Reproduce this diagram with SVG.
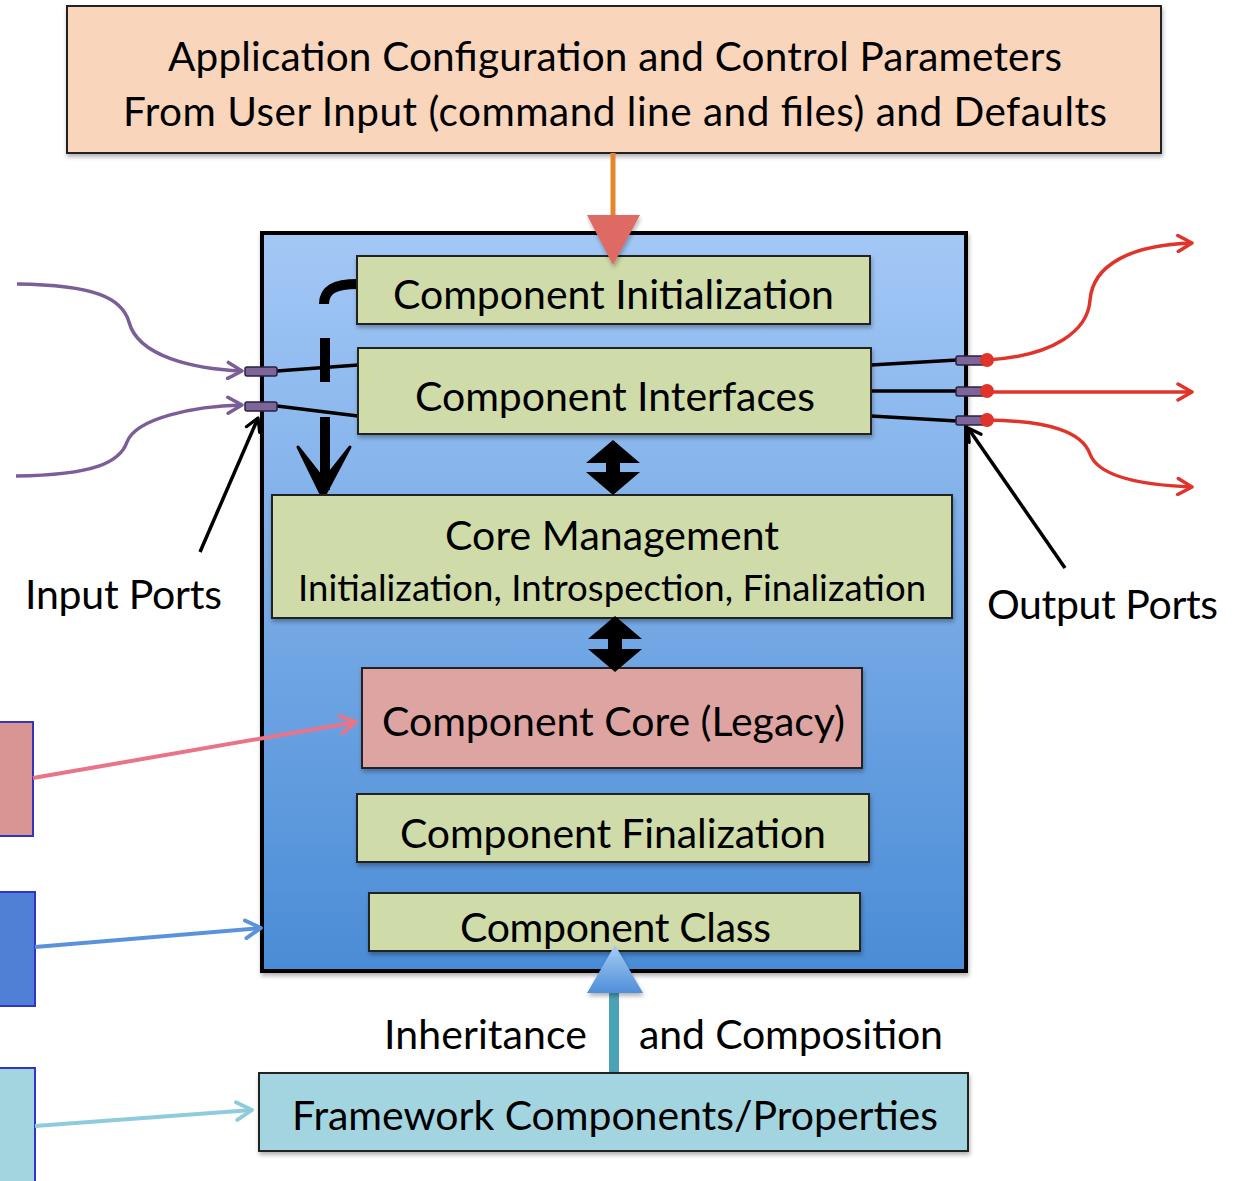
<svg xmlns="http://www.w3.org/2000/svg" width="1237" height="1181" viewBox="0 0 1237 1181">
<style>
.t{font-family:Lato,"Open Sans","Liberation Sans",sans-serif;fill:#000;text-anchor:middle}
.box{stroke:#222;stroke-width:2}
.green{fill:#cfdba9}
.lbl{font-family:Lato,"Open Sans","Liberation Sans",sans-serif;fill:#000}
</style>
<defs>
<linearGradient id="blueg" x1="0" y1="0" x2="0" y2="1">
<stop offset="0" stop-color="#a3c8f6"/>
<stop offset="1" stop-color="#4a8cd6"/>
</linearGradient>
<linearGradient id="trig" x1="0" y1="0" x2="0" y2="1">
<stop offset="0" stop-color="#a8cdf5"/>
<stop offset="1" stop-color="#4f8fd8"/>
</linearGradient>
<filter id="sh" x="-5%" y="-5%" width="110%" height="120%">
<feDropShadow dx="1" dy="3" stdDeviation="2" flood-color="#000" flood-opacity="0.3"/>
</filter>
<marker id="pArr" viewBox="0 0 20 20" refX="18" refY="10" markerWidth="20" markerHeight="20" markerUnits="userSpaceOnUse" orient="auto">
<path d="M4,2 L18,10 L4,18" fill="none" stroke="#7b5d98" stroke-width="3.5" stroke-linecap="round" stroke-linejoin="round"/>
</marker>
<marker id="rArr" viewBox="0 0 20 20" refX="18" refY="10" markerWidth="20" markerHeight="20" markerUnits="userSpaceOnUse" orient="auto">
<path d="M4,2 L18,10 L4,18" fill="none" stroke="#e0332a" stroke-width="3.5" stroke-linecap="round" stroke-linejoin="round"/>
</marker>
<marker id="kArr" viewBox="0 0 20 20" refX="18" refY="10" markerWidth="18" markerHeight="18" markerUnits="userSpaceOnUse" orient="auto">
<path d="M4,2 L18,10 L4,18" fill="none" stroke="#000" stroke-width="3.5" stroke-linecap="round" stroke-linejoin="round"/>
</marker>
<marker id="pinkArr" viewBox="0 0 20 20" refX="18" refY="10" markerWidth="22" markerHeight="22" markerUnits="userSpaceOnUse" orient="auto">
<path d="M4,2 L18,10 L4,18" fill="none" stroke="#ea7487" stroke-width="3.5" stroke-linecap="round" stroke-linejoin="round"/>
</marker>
<marker id="bArr" viewBox="0 0 20 20" refX="18" refY="10" markerWidth="22" markerHeight="22" markerUnits="userSpaceOnUse" orient="auto">
<path d="M4,2 L18,10 L4,18" fill="none" stroke="#5a93dc" stroke-width="3.5" stroke-linecap="round" stroke-linejoin="round"/>
</marker>
<marker id="lbArr" viewBox="0 0 20 20" refX="18" refY="10" markerWidth="22" markerHeight="22" markerUnits="userSpaceOnUse" orient="auto">
<path d="M4,2 L18,10 L4,18" fill="none" stroke="#8ecbdc" stroke-width="3.5" stroke-linecap="round" stroke-linejoin="round"/>
</marker>
</defs>
<rect width="1237" height="1181" fill="#fff"/>

<g id="config">
<rect x="67" y="6" width="1094" height="147" fill="#f9d5bc" class="box" filter="url(#sh)"/>
<text class="t" x="615" y="71" font-size="40.5" textLength="894">Application Configuration and Control Parameters</text>
<text class="t" x="615" y="126" font-size="40.5" textLength="984">From User Input (command line and files) and Defaults</text>
</g>

<g id="component">
<rect x="262" y="233" width="704" height="738" fill="url(#blueg)" stroke="#000" stroke-width="4" filter="url(#sh)"/>
</g>

<g id="left-boxes">
<rect x="-3" y="722" width="36" height="114" fill="#d99494" stroke="#3333c4" stroke-width="2"/>
<rect x="-3" y="892" width="38" height="114" fill="#4f80d6" stroke="#3333c4" stroke-width="2"/>
<rect x="-3" y="1068" width="38" height="120" fill="#a2d5e0" stroke="#3333c4" stroke-width="2"/>
</g>

<g id="connectors">
<line x1="613" y1="153" x2="613" y2="218" stroke="#e5862c" stroke-width="5"/>
<path d="M358,284 C334,284 324,290 324,304" fill="none" stroke="#000" stroke-width="10"/>
<line x1="325" y1="338" x2="325" y2="382" stroke="#000" stroke-width="10"/>
<line x1="325" y1="417" x2="325" y2="490" stroke="#000" stroke-width="10"/>
<path d="M298,447 L323,498 L350,447 L324,480 Z" fill="#000" stroke="#000" stroke-width="3" stroke-linejoin="round"/>
<line x1="277" y1="371" x2="358" y2="365" stroke="#000" stroke-width="3.5"/>
<line x1="277" y1="406" x2="358" y2="416" stroke="#000" stroke-width="3.5"/>
<line x1="871" y1="365" x2="957" y2="360" stroke="#000" stroke-width="3.5"/>
<line x1="871" y1="391" x2="957" y2="391" stroke="#000" stroke-width="3.5"/>
<line x1="871" y1="416" x2="957" y2="421" stroke="#000" stroke-width="3.5"/>
<path d="M17,284 C95,285 122,298 129,322 C138,357 195,369 242,371" fill="none" stroke="#7b5d98" stroke-width="3.5" marker-end="url(#pArr)"/>
<path d="M16,476 C95,475 120,462 127,442 C136,418 195,406 242,405" fill="none" stroke="#7b5d98" stroke-width="3.5" marker-end="url(#pArr)"/>
<path d="M987,360 C1055,356 1088,330 1090,300 C1093,265 1130,245 1192,243" fill="none" stroke="#e0332a" stroke-width="3.5" marker-end="url(#rArr)"/>
<line x1="987" y1="392" x2="1192" y2="392" stroke="#e0332a" stroke-width="3.5" marker-end="url(#rArr)"/>
<path d="M987,420 C1050,421 1082,432 1090,454 C1098,476 1140,485 1192,487" fill="none" stroke="#e0332a" stroke-width="3.5" marker-end="url(#rArr)"/>
<line x1="200" y1="552" x2="258" y2="418" stroke="#000" stroke-width="3.5" marker-end="url(#kArr)"/>
<line x1="1065" y1="568" x2="968" y2="428" stroke="#000" stroke-width="3.5" marker-end="url(#kArr)"/>
<line x1="33" y1="778" x2="356" y2="722" stroke="#ea7487" stroke-width="4" marker-end="url(#pinkArr)"/>
<line x1="35" y1="947" x2="261" y2="928" stroke="#5a93dc" stroke-width="4" marker-end="url(#bArr)"/>
<line x1="35" y1="1126" x2="252" y2="1110" stroke="#8ecbdc" stroke-width="4" marker-end="url(#lbArr)"/>
<line x1="614" y1="985" x2="614" y2="1074" stroke="#4aa2b6" stroke-width="10"/>
</g>

<g id="init">
<rect x="357" y="256" width="513" height="68" class="box green" filter="url(#sh)"/>
<text class="t" x="613.5" y="309" font-size="41" textLength="441">Component Initialization</text>
</g>
<g id="interfaces">
<rect x="358" y="348" width="513" height="86" class="box green" filter="url(#sh)"/>
<text class="t" x="615" y="411" font-size="41" textLength="400">Component Interfaces</text>
</g>
<g id="core-mgmt">
<rect x="272" y="495" width="680" height="123" class="box green" filter="url(#sh)"/>
<text class="t" x="612" y="550" font-size="41" textLength="334">Core Management</text>
<text class="t" x="612" y="601" font-size="36.5" textLength="628">Initialization, Introspection, Finalization</text>
</g>
<g id="core">
<rect x="362" y="668" width="500" height="100" fill="#dea4a2" class="box" filter="url(#sh)"/>
<text class="t" x="613.5" y="736" font-size="41" textLength="463">Component Core (Legacy)</text>
</g>
<g id="final">
<rect x="357" y="794" width="512" height="68" class="box green" filter="url(#sh)"/>
<text class="t" x="613" y="848" font-size="41" textLength="426">Component Finalization</text>
</g>
<g id="class">
<rect x="369" y="893" width="491" height="58" class="box green" filter="url(#sh)"/>
<text class="t" x="615.5" y="942" font-size="41" textLength="311">Component Class</text>
</g>
<g id="framework">
<rect x="259" y="1073" width="709" height="78" fill="#a2d5e0" class="box" filter="url(#sh)"/>
<text class="t" x="615" y="1130" font-size="41" textLength="646">Framework Components/Properties</text>
</g>

<g id="heads">
<path d="M587,215 L640,215 L613,265 Z" fill="#dd6a63" filter="url(#sh)"/>
<path d="M613,440 L640,463 L620,463 L620,472 L640,472 L613,495 L586,472 L606,472 L606,463 L586,463 Z" fill="#000"/>
<path d="M615,616 L642,639 L622,639 L622,649 L642,649 L615,672 L588,649 L608,649 L608,639 L588,639 Z" fill="#000"/>
<path d="M615,945 L643,993 L587,993 Z" fill="url(#trig)" filter="url(#sh)"/>
<rect x="245" y="367" width="32" height="9" rx="2" fill="#7d659a" stroke="#2a2040" stroke-width="1.5"/>
<rect x="245" y="402" width="32" height="9" rx="2" fill="#7d659a" stroke="#2a2040" stroke-width="1.5"/>
<rect x="956" y="356" width="32" height="9" rx="2" fill="#7d659a" stroke="#2a2040" stroke-width="1.5"/>
<rect x="956" y="387" width="32" height="9" rx="2" fill="#7d659a" stroke="#2a2040" stroke-width="1.5"/>
<rect x="956" y="416" width="32" height="9" rx="2" fill="#7d659a" stroke="#2a2040" stroke-width="1.5"/>
<circle cx="987" cy="360" r="7" fill="#e0332a"/>
<circle cx="987" cy="391" r="7" fill="#e0332a"/>
<circle cx="987" cy="420" r="7" fill="#e0332a"/>
</g>

<g id="labels">
<text class="lbl" x="25" y="609" font-size="41" textLength="197">Input Ports</text>
<text class="lbl" x="987" y="619" font-size="41" textLength="231">Output Ports</text>
<text class="lbl" x="384" y="1049" font-size="41" textLength="203">Inheritance</text>
<text class="lbl" x="639" y="1049" font-size="41" textLength="304">and Composition</text>
</g>
</svg>
